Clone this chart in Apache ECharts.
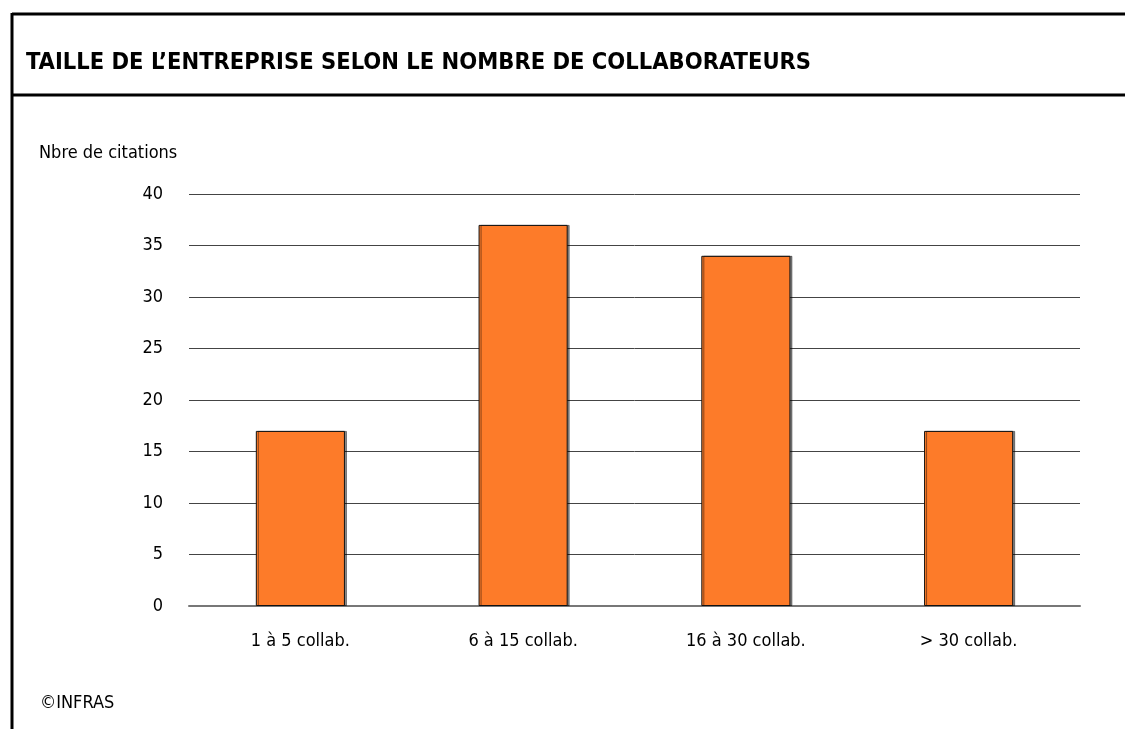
<!DOCTYPE html>
<html><head><meta charset="utf-8">
<script src="https://cdn.jsdelivr.net/npm/echarts@6/dist/echarts.min.js"></script>
<style>html,body{margin:0;padding:0;background:#fff}#c{width:1125px;height:729px}</style>
</head><body><div id="c"></div>
<script>
const titleText = "TAILLE DE L’ENTREPRISE SELON LE NOMBRE DE COLLABORATEURS";
const yAxisName = "Nbre de citations";
const categories = ["1 à 5 collab.", "6 à 15 collab.", "16 à 30 collab.", "> 30 collab."];
const values = [17, 37, 34, 17];
const yTicks = [0, 5, 10, 15, 20, 25, 30, 35, 40];
const source = "©INFRAS";

const FONT = "DejaVu Sans Condensed";
const chart = echarts.init(document.getElementById('c'), null, {renderer: 'canvas'});
chart.setOption({
  animation: false,
  backgroundColor: '#fff',
  graphic: [
    {type: 'line', shape: {x1: 12, y1: 14, x2: 1125, y2: 14}, style: {stroke: '#000', lineWidth: 3}},
    {type: 'line', shape: {x1: 12, y1: 95, x2: 1125, y2: 95}, style: {stroke: '#000', lineWidth: 3}},
    {type: 'line', shape: {x1: 12, y1: 13, x2: 12, y2: 729}, style: {stroke: '#000', lineWidth: 3}},
    {type: 'text', x: 26, y: 63, style: {text: titleText, fontFamily: FONT, fontWeight: 'bold', fontSize: 23.5, fill: '#000', textVerticalAlign: 'middle'}},
    {type: 'text', x: 39, y: 153, style: {text: yAxisName, fontFamily: FONT, fontSize: 18, fill: '#000', textVerticalAlign: 'middle'}},
    {type: 'text', x: 40, y: 703, style: {text: source, fontFamily: FONT, fontSize: 18, fill: '#000', textVerticalAlign: 'middle'}}
  ],
  grid: {left: 189, right: 45, top: 194, bottom: 123, containLabel: false},
  xAxis: {
    type: 'category', data: categories,
    axisLine: {lineStyle: {color: '#777', width: 2}},
    axisTick: {show: false},
    axisLabel: {fontFamily: FONT, fontSize: 18, color: '#000', margin: 26}
  },
  yAxis: {
    type: 'value', min: yTicks[0], max: yTicks[yTicks.length - 1], interval: 5,
    axisLine: {show: false}, axisTick: {show: false},
    axisLabel: {fontFamily: FONT, fontSize: 18, color: '#000', margin: 26},
    splitLine: {lineStyle: {color: '#444', width: 1}}
  },
  series: [{
    type: 'bar', data: values, barWidth: '40%',
    itemStyle: {color: '#FD7B29', borderColor: '#111', borderWidth: 1,
      shadowColor: 'rgba(0,0,0,0.45)', shadowOffsetX: 2, shadowOffsetY: 0, shadowBlur: 0}
  }]
});
</script></body></html>
